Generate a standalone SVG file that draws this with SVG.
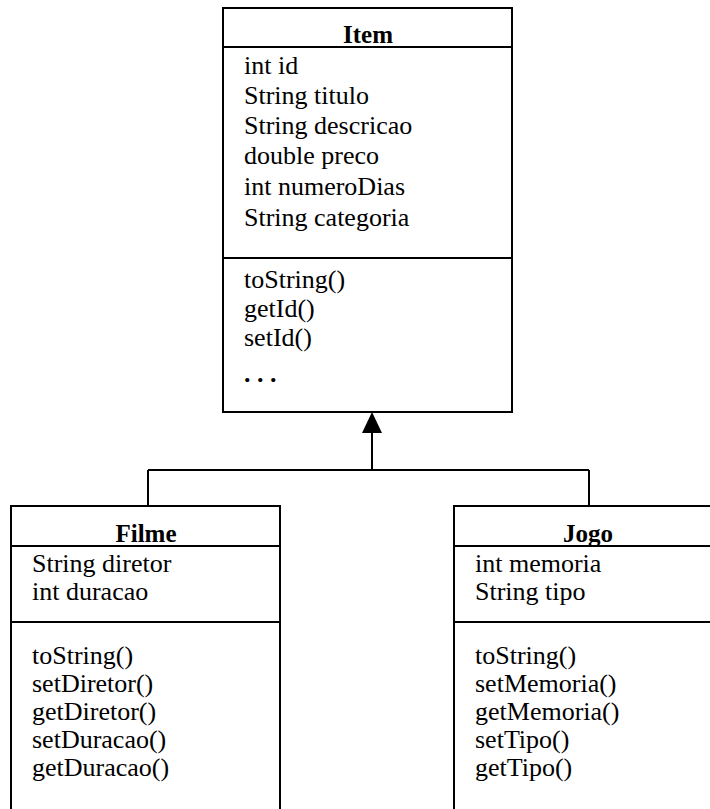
<svg xmlns="http://www.w3.org/2000/svg" width="710" height="809" viewBox="0 0 710 809">
<style>
.box{fill:#fff;stroke:#000;stroke-width:2}
.ln{stroke:#000;stroke-width:2;fill:none}
.t{font-family:"Liberation Serif","Times New Roman",serif;font-size:26px;fill:#000}
.h{font-family:"Liberation Serif","Times New Roman",serif;font-size:25px;font-weight:bold;fill:#000;text-anchor:middle}
</style>
<rect width="710" height="809" fill="#fff"/>
<g id="connectors">
<path class="ln" d="M372 433V470M148 470H589M148 470V506M589 470V506"/>
<polygon points="372,412 362,433 382,433" fill="#000"/>
</g>
<g id="item">
<rect class="box" x="223" y="8" width="289" height="404"/>
<path class="ln" d="M223 47H512M223 258H512"/>
<text class="h" x="368" y="43">Item</text>
<text class="t" x="244" y="74">int id</text>
<text class="t" x="244" y="104">String titulo</text>
<text class="t" x="244" y="134">String descricao</text>
<text class="t" x="244" y="164">double preco</text>
<text class="t" x="244" y="195">int numeroDias</text>
<text class="t" x="244" y="226">String categoria</text>
<text class="t" x="244" y="288">toString()</text>
<text class="t" x="244" y="317">getId()</text>
<text class="t" x="244" y="346">setId()</text>
<text class="t" x="244" y="382" font-weight="bold">. . .</text>
</g>
<g id="filme">
<rect class="box" x="11" y="506" width="269" height="320"/>
<path class="ln" d="M11 546H280M11 622H280"/>
<text class="h" x="146" y="542">Filme</text>
<text class="t" x="32" y="572">String diretor</text>
<text class="t" x="32" y="600">int duracao</text>
<text class="t" x="32" y="664">toString()</text>
<text class="t" x="32" y="692">setDiretor()</text>
<text class="t" x="32" y="720">getDiretor()</text>
<text class="t" x="32" y="748">setDuracao()</text>
<text class="t" x="32" y="776">getDuracao()</text>
</g>
<g id="jogo">
<rect class="box" x="454" y="506" width="268" height="320"/>
<path class="ln" d="M454 546H722M454 622H722"/>
<text class="h" x="588" y="542">Jogo</text>
<text class="t" x="475" y="572">int memoria</text>
<text class="t" x="475" y="600">String tipo</text>
<text class="t" x="475" y="664">toString()</text>
<text class="t" x="475" y="692">setMemoria()</text>
<text class="t" x="475" y="720">getMemoria()</text>
<text class="t" x="475" y="748">setTipo()</text>
<text class="t" x="475" y="776">getTipo()</text>
</g>
</svg>
